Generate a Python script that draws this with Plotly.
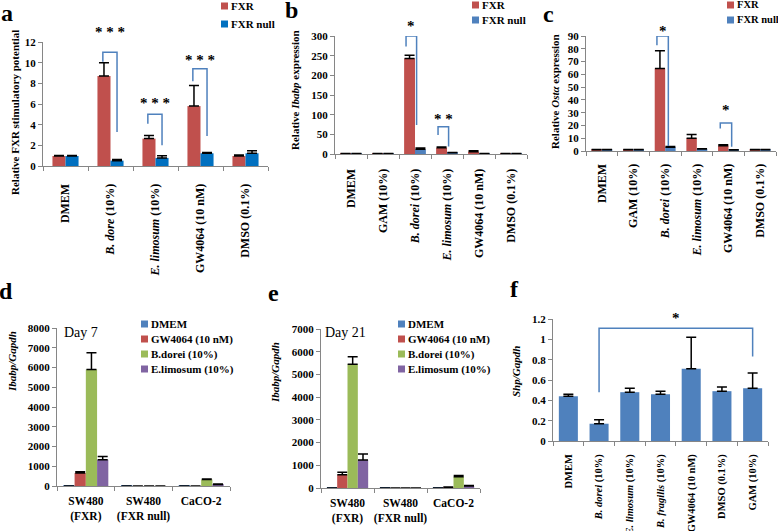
import plotly.graph_objects as go

W, H = 778, 531
SERIF = "Liberation Serif"
AXIS = "#868686"
RED = "#C0504D"
BLUE = "#4F81BD"
BLUE_A = "#0070C0"
GREEN = "#9BBB59"
PURPLE = "#8064A2"
BRACKET = "#4F81BD"

# ---- panel a : FXR stimulatory potential
a_cats = ["DMEM", "<i>B. dore</i> (10%)", "<i>E. limosum</i> (10%)", "GW4064 (10 nM)", "DMSO (0.1%)"]
a_fxr = [0.97, 8.7, 2.65, 5.8, 0.97]
a_fxr_err = [0.05, 1.3, 0.3, 2.0, 0.1]
a_null = [0.97, 0.52, 0.78, 1.23, 1.23]
a_null_err = [0.04, 0.1, 0.2, 0.07, 0.25]
a_sig_idx = [1, 2, 3]
a_sig_top = [11.0, 5.0, 9.4]
a_sig_left = [10.1, 4.1, 8.2]
a_sig_right = [3.3, 2.0, 2.9]
a_sig_star = [13.0, 6.1, 10.3]
a_sig_text = ["* * *", "* * *", "* * *"]

# ---- panel b : Ibabp expression
b_cats = ["DMEM", "GAM (10%)", "<i>B. dorei</i> (10%)", "<i>E. limosum</i> (10%)", "GW4064 (10 nM)", "DMSO (0.1%)"]
b_fxr = [1, 1, 243, 16, 6, 1]
b_fxr_err = [0, 0, 8, 2, 2, 0]
b_null = [1, 1, 12, 3, 1, 1]
b_null_err = [0, 0, 3, 1, 0.5, 0]
b_sig_idx = [2, 3]
b_sig_top = [300, 69]
b_sig_left = [273, 48]
b_sig_right = [74, 19]
b_sig_star = [326, 90]
b_sig_text = ["*", "* *"]

# ---- panel c : Ost-alpha expression
c_cats = b_cats
c_fxr = [1, 1, 64.5, 10, 4.2, 1]
c_fxr_err = [0.2, 0.2, 14, 3, 0.6, 0.2]
c_null = [1, 1, 3, 1.5, 0.8, 1]
c_null_err = [0.2, 0.2, 0.5, 0.3, 0.2, 0.2]
c_sig_idx = [2, 4]
c_sig_top = [90, 22]
c_sig_left = [82.8, 17.7]
c_sig_right = [4, 3.4]
c_sig_star = [94, 32]
c_sig_text = ["*", "*"]

# ---- panels d / e : Ibabp/Gapdh
de_cats = ["SW480<br>(FXR)", "SW480<br>(FXR null)", "CaCO-2"]
de_series = ["DMEM", "GW4064 (10 nM)", "B.dorei (10%)", "E.limosum (10%)"]
d_dmem = [1, 1, 1]
d_gw = [660, 0, 0]
d_dorei = [5900, 0, 330]
d_limosum = [1330, 0, 80]
d_dmem_err = [0, 0, 0]
d_gw_err = [60, 0, 0]
d_dorei_err = [850, 0, 20]
d_limosum_err = [170, 0, 20]
e_dmem = [1, 1, 1]
e_gw = [580, 0, 30]
e_dorei = [5450, 0, 500]
e_limosum = [1230, 0, 90]
e_dmem_err = [0, 0, 0]
e_gw_err = [110, 0, 10]
e_dorei_err = [330, 0, 50]
e_limosum_err = [270, 0, 15]

# ---- panel f : Shp/Gapdh
f_cats = ["DMEM", "<i>B. dorei</i> (10%)", "<i>E. limosum</i> (10%)", "<i>B. fragilis</i> (10%)",
          "GW4064 (10 nM)", "DMSO (0.1%)", "GAM (10%)"]
f_vals = [0.44, 0.17, 0.48, 0.46, 0.71, 0.49, 0.52]
f_err = [0.02, 0.04, 0.04, 0.03, 0.31, 0.04, 0.15]
f_sig = dict(left=1, right=6, top=1.11, left_end=0.48, right_end=0.83, star=1.21)


def tfont(size=10, weight="bold", italic=False):
    return dict(family=SERIF, size=size, color="black", weight=weight,
                style="italic" if italic else "normal")


fig = go.Figure()


def setup_axes(k, xpx, ypx, cats, yrange, dtick, angle, standoff, xsize):
    sfx = "" if k == 1 else str(k)
    n = len(cats)
    fig.update_layout(**{
        "xaxis" + sfx: dict(
            domain=[xpx[0] / W, xpx[1] / W], anchor="y" + sfx,
            range=[-0.5, n - 0.5], tickmode="array", tickvals=list(range(n)),
            ticktext=cats, tickangle=angle, ticks="", showline=True,
            linecolor=AXIS, linewidth=1, showgrid=False, zeroline=False,
            tickfont=tfont(xsize), ticklabelstandoff=standoff, automargin=False,
            minor=dict(ticks="outside", tick0=-0.5, dtick=1, ticklen=4,
                       tickcolor=AXIS, showgrid=False),
        ),
        "yaxis" + sfx: dict(
            domain=[1 - ypx[0] / H, 1 - ypx[1] / H], anchor="x" + sfx,
            range=yrange, dtick=dtick, ticks="outside", ticklen=4,
            tickcolor=AXIS, showline=True, linecolor=AXIS, linewidth=1,
            showgrid=False, zeroline=False, tickfont=tfont(11), automargin=False,
        ),
    })
    return "x" + sfx, "y" + sfx


def add_bar(xa, ya, vals, err, color, width, offset):
    fig.add_trace(go.Bar(
        x=list(range(len(vals))), y=vals, width=width, offset=offset,
        marker=dict(color=color, line=dict(width=0)),
        error_y=dict(type="data", symmetric=False, array=err,
                     arrayminus=[0] * len(err), color="black",
                     thickness=1.5, width=5),
        xaxis=xa, yaxis=ya, showlegend=False,
    ))


def add_bracket(xa, ya, ymax, x0, x1, top, left, right, star, text, size=15):
    fig.add_trace(go.Scatter(
        x=[x0, x0, x1, x1], y=[left, top, top, right], mode="lines",
        line=dict(color=BRACKET, width=1.5), cliponaxis=False,
        hoverinfo="skip", showlegend=False, xaxis=xa, yaxis=ya,
    ))
    # stars may sit above the axis range, so place them on the axis domain
    fig.add_annotation(x=(x0 + x1) / 2, y=star / ymax, xref=xa,
                       yref=ya + " domain", text=text, showarrow=False,
                       xanchor="center", yanchor="middle", font=tfont(size))


def add_brackets(xa, ya, ymax, idx, top, left, right, star, text, lo, hi):
    for i, t, l, r, s, txt in zip(idx, top, left, right, star, text):
        add_bracket(xa, ya, ymax, i + lo, i + hi, t, l, r, s, txt)


def legend(x_sq, rows, names, colors, size=11):
    for y, name, col in zip(rows, names, colors):
        fig.add_shape(type="rect", xref="paper", yref="paper",
                      x0=x_sq / W, x1=(x_sq + 7) / W,
                      y0=1 - (y + 3.5) / H, y1=1 - (y - 3.5) / H,
                      fillcolor=col, line=dict(width=0))
        fig.add_annotation(x=(x_sq + 8) / W, y=1 - y / H, xref="paper", yref="paper",
                           text=name, showarrow=False, xanchor="left",
                           yanchor="middle", font=tfont(size))


def label(x, y, text, size=11, angle=-90, xanchor="center", **kw):
    fig.add_annotation(x=x / W, y=1 - y / H, xref="paper", yref="paper",
                       text=text, showarrow=False, textangle=angle,
                       xanchor=xanchor, yanchor="middle",
                       font=tfont(size, **kw))


# panel a
xa, ya = setup_axes(1, (43, 268), (166, 42), a_cats, [0, 12], 2, -90, 12, 12)
add_bar(xa, ya, a_fxr, a_fxr_err, RED, 0.29, -0.29)
add_bar(xa, ya, a_null, a_null_err, BLUE_A, 0.29, 0)
add_brackets(xa, ya, 12, a_sig_idx, a_sig_top, a_sig_left, a_sig_right,
             a_sig_star, a_sig_text, -0.17, 0.145)
legend(221, [6, 24], ["FXR", "FXR null"], [RED, BLUE_A])
label(15, 113, "Relative FXR stimulatory potential")

# panel b
xa, ya = setup_axes(2, (335, 527), (154, 36), b_cats, [0, 300], 50, -90, 9, 12)
add_bar(xa, ya, b_fxr, b_fxr_err, RED, 0.34, -0.34)
add_bar(xa, ya, b_null, b_null_err, BLUE, 0.34, 0)
add_brackets(xa, ya, 300, b_sig_idx, b_sig_top, b_sig_left, b_sig_right,
             b_sig_star, b_sig_text, -0.28, 0.05)
legend(472, [5, 20], ["FXR", "FXR null"], [RED, BLUE])
label(295, 90, "Relative <i>Ibabp</i> expression")

# panel c
xa, ya = setup_axes(3, (586, 776), (151, 36), c_cats, [0, 90], 10, -90, 7, 12)
add_bar(xa, ya, c_fxr, c_fxr_err, RED, 0.33, -0.33)
add_bar(xa, ya, c_null, c_null_err, BLUE, 0.33, 0)
add_brackets(xa, ya, 90, c_sig_idx, c_sig_top, c_sig_left, c_sig_right,
             c_sig_star, c_sig_text, -0.26, 0.1)
legend(727, [5, 20], ["FXR", "FXR null"], [RED, BLUE], size=10.5)
label(555, 92, "Relative <i>Ostα</i> expression")

# panel d
de_colors = [BLUE, RED, GREEN, PURPLE]
xa, ya = setup_axes(4, (57, 230), (486, 328), de_cats, [0, 8000], 1000, 0, 4, 11.5)
for vals, err, col, off in zip([d_dmem, d_gw, d_dorei, d_limosum],
                               [d_dmem_err, d_gw_err, d_dorei_err, d_limosum_err],
                               de_colors, [-0.39, -0.195, 0, 0.195]):
    add_bar(xa, ya, vals, err, col, 0.195, off)
legend(141, [324, 339, 354, 369], de_series, de_colors)
label(12, 362, "<i>Ibabp/Gapdh</i>")
label(62, 332, "Day 7", size=14, angle=0, xanchor="left", weight="normal")

# panel e
xa, ya = setup_axes(5, (321, 480), (488, 329), de_cats, [0, 7000], 1000, 0, 4, 11.5)
for vals, err, col, off in zip([e_dmem, e_gw, e_dorei, e_limosum],
                               [e_dmem_err, e_gw_err, e_dorei_err, e_limosum_err],
                               de_colors, [-0.39, -0.195, 0, 0.195]):
    add_bar(xa, ya, vals, err, col, 0.195, off)
legend(398, [324, 339, 354, 369], de_series, de_colors)
label(275, 373, "<i>Ibabp/Gapdh</i>")
label(323, 332, "Day 21", size=14, angle=0, xanchor="left", weight="normal")

# panel f
xa, ya = setup_axes(6, (553, 768), (441, 319), f_cats, [0, 1.2], 0.2, -90, 8, 10.5)
add_bar(xa, ya, f_vals, f_err, BLUE, 0.62, -0.31)
add_bracket(xa, ya, 1.2, f_sig["left"], f_sig["right"], f_sig["top"],
            f_sig["left_end"], f_sig["right_end"], f_sig["star"], "*")
label(516, 372, "<i>Shp/Gapdh</i>")

# panel letters
for t, x, y in [("a", 7, 13), ("b", 291, 10), ("c", 548, 14),
                ("d", 6, 291), ("e", 273, 293), ("f", 514, 289)]:
    label(x, y, t, size=24, angle=0)

fig.update_layout(
    width=W, height=H, margin=dict(l=0, r=0, t=0, b=0, autoexpand=False),
    plot_bgcolor="white", paper_bgcolor="white",
    barmode="overlay", font=dict(family=SERIF),
)

fig.write_html("out.html", config={"displayModeBar": False},
               post_script="document.body.style.margin='0';")
